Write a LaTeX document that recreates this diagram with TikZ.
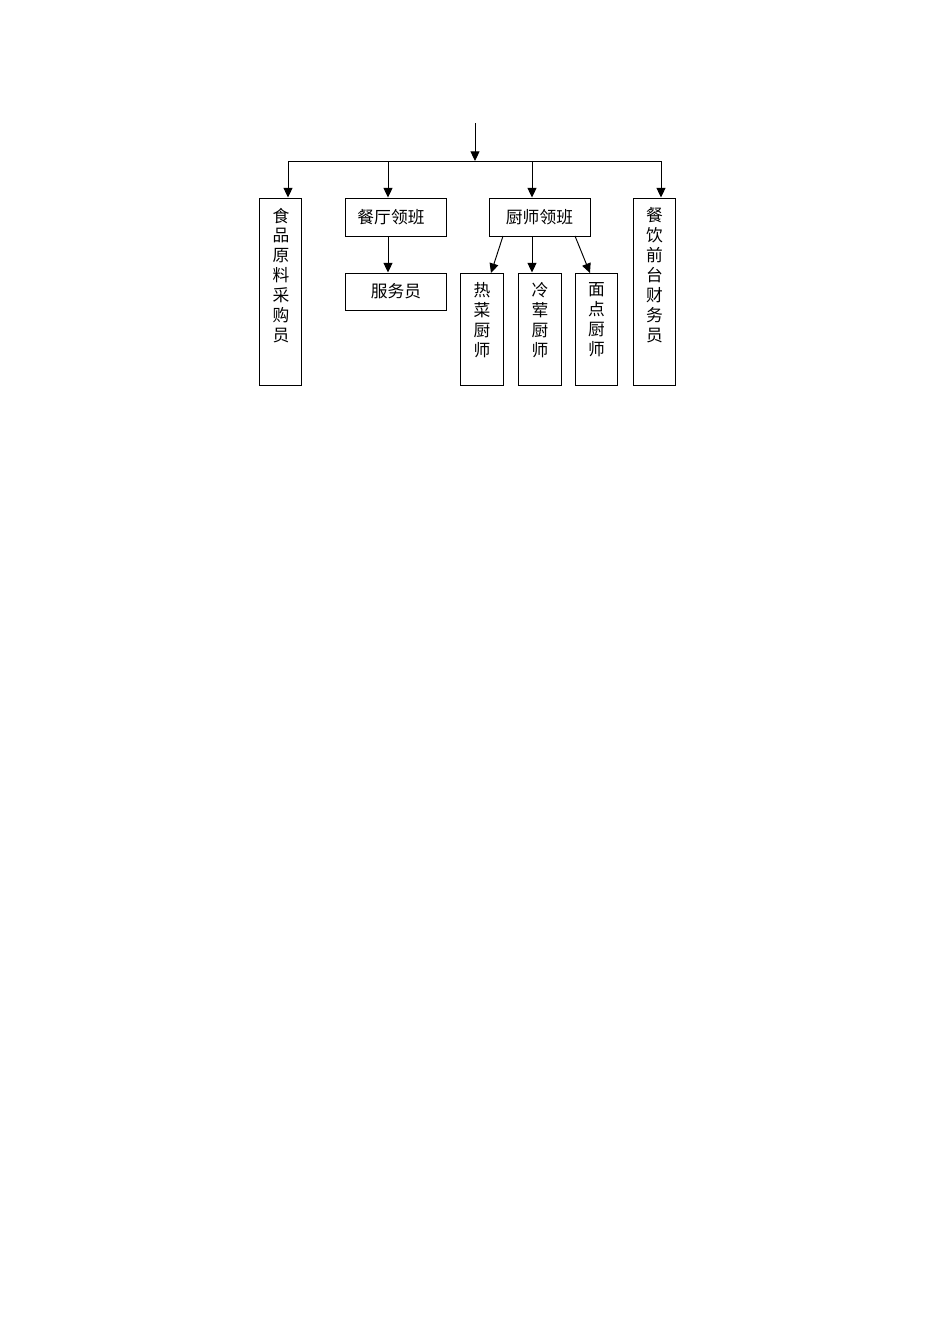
\documentclass[tikz,border=0pt]{standalone}
\usepackage{fontspec}
\setmainfont{Noto Sans CJK SC}
\usetikzlibrary{arrows.meta}
\begin{document}
\begin{tikzpicture}[x=0.6266pt,y=-0.6266pt,
  box/.style={draw,line width=0.6pt,inner sep=0pt,font=\fontsize{10.5pt}{12.5pt}\selectfont},
  txt/.style={inner sep=0pt,align=center,anchor=north,font=\fontsize{10.5pt}{12.5pt}\selectfont},
  htxt/.style={inner sep=0pt,font=\fontsize{10.5pt}{12.5pt}\selectfont},
  arr/.style={-{Triangle[length=6pt,width=5.6pt]},line width=0.6pt},
  ln/.style={line width=0.6pt}]
\fill[white] (0,0) rectangle (950,1344);
\useasboundingbox (0,0) rectangle (950,1344);
% boxes
\node[box,minimum width=26.9pt,minimum height=117.2pt] (cg) at (280.5,291.5) {};
\node[box,minimum width=62.7pt,minimum height=23.8pt] (ct) at (396,217) {};
\node[htxt] (ctt) at (391,217) {餐厅领班};
\node[box,minimum width=62.7pt,minimum height=23.2pt] (fw) at (396,291.5) {服务员};
\node[box,minimum width=63.3pt,minimum height=23.8pt] (cs) at (539.5,217) {厨师领班};
\node[box,minimum width=26.6pt,minimum height=70.2pt] (rc) at (482,329) {};
\node[box,minimum width=27.1pt,minimum height=70.2pt] (lh) at (540,329) {};
\node[box,minimum width=26.9pt,minimum height=70.2pt] (md) at (596.5,329) {};
\node[box,minimum width=26.9pt,minimum height=117.2pt] (cw) at (654.5,291.5) {};
% vertical texts
\node[txt] (cgt) at (281,207.5) {食\\品\\原\\料\\采\\购\\员};
\node[txt] (cwt) at (654.5,207.5) {餐\\饮\\前\\台\\财\\务\\员};
\node[txt] (rct) at (482,282) {热\\菜\\厨\\师};
\node[txt] (lht) at (540,282) {冷\\荤\\厨\\师};
\node[txt] (mdt) at (596.5,282) {面\\点\\厨\\师};
% bus
\coordinate (top) at (475,123);
\coordinate (bt) at (475,161);
\coordinate (b1) at (288,161);
\coordinate (b2) at (388,161);
\coordinate (b3) at (532,161);
\coordinate (b4) at (661,161);
\draw[arr] (top) -- (bt);
\draw[ln] (b1) -- (b4);
\draw[arr] (b1) -- (b1 |- cg.north);
\draw[arr] (b2) -- (b2 |- ct.north);
\draw[arr] (b3) -- (b3 |- cs.north);
\draw[arr] (b4) -- (b4 |- cw.north);
\draw[arr] (b2 |- ct.south) -- (b2 |- fw.north);
% chef arrows
\coordinate (s1) at (503,236);
\coordinate (e1) at (491,273);
\coordinate (s3) at (575,236);
\coordinate (e3) at (590,273);
\draw[arr] (s1) -- (e1);
\draw[arr] (b3 |- cs.south) -- (b3 |- lh.north);
\draw[arr] (s3) -- (e3);
\end{tikzpicture}
\end{document}
